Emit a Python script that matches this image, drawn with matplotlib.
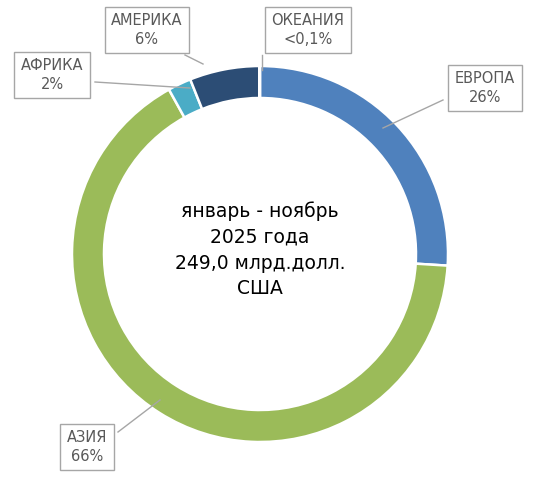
import matplotlib
matplotlib.use("Agg")
import matplotlib.pyplot as plt

regions = ["ЕВРОПА", "АЗИЯ", "АФРИКА", "АМЕРИКА", "ОКЕАНИЯ"]
shares = [26, 66, 2, 6, 0.05]
labels = ["ЕВРОПА\n26%", "АЗИЯ\n66%", "АФРИКА\n2%", "АМЕРИКА\n6%", "ОКЕАНИЯ\n<0,1%"]
colors = ["#4F81BD", "#9BBB59", "#4BACC6", "#2C4D75", "#7F7F7F"]

H = 484
fig = plt.figure(figsize=(5.39, 4.84), dpi=100)
ax = fig.add_axes([0, 0, 1, 1])

ax.pie(shares, colors=colors, startangle=90, counterclock=False,
       center=(260, H - 254), radius=188,
       wedgeprops=dict(width=32, edgecolor="white", linewidth=1.8), frame=True)
ax.set_xlim(0, 539); ax.set_ylim(0, H); ax.set_aspect("equal"); ax.axis("off")

pos = [(485, 88), (87, 447), (52, 75), (147, 30), (308, 30)]
lines = [((443, 100), (383, 128)), ((118, 432), (160, 400)),
         ((95, 82), (190, 88)), ((185, 55), (203, 64)), ((262, 55), (262, 70))]
for lab, (x, y), ((x1, y1), (x2, y2)) in zip(labels, pos, lines):
    ax.plot([x1, x2], [H - y1, H - y2], color="#A6A6A6", lw=1)
    ax.text(x, H - y, lab, ha="center", va="center", fontsize=10.5, color="#595959",
            linespacing=1.3,
            bbox=dict(boxstyle="square,pad=0.45", fc="white", ec="#A6A6A6", lw=1))

ax.text(260, H - 250, "январь - ноябрь\n2025 года\n249,0 млрд.долл.\nСША",
        ha="center", va="center", fontsize=13.5, color="black", linespacing=1.45)

fig.savefig("out.png", dpi=100)
